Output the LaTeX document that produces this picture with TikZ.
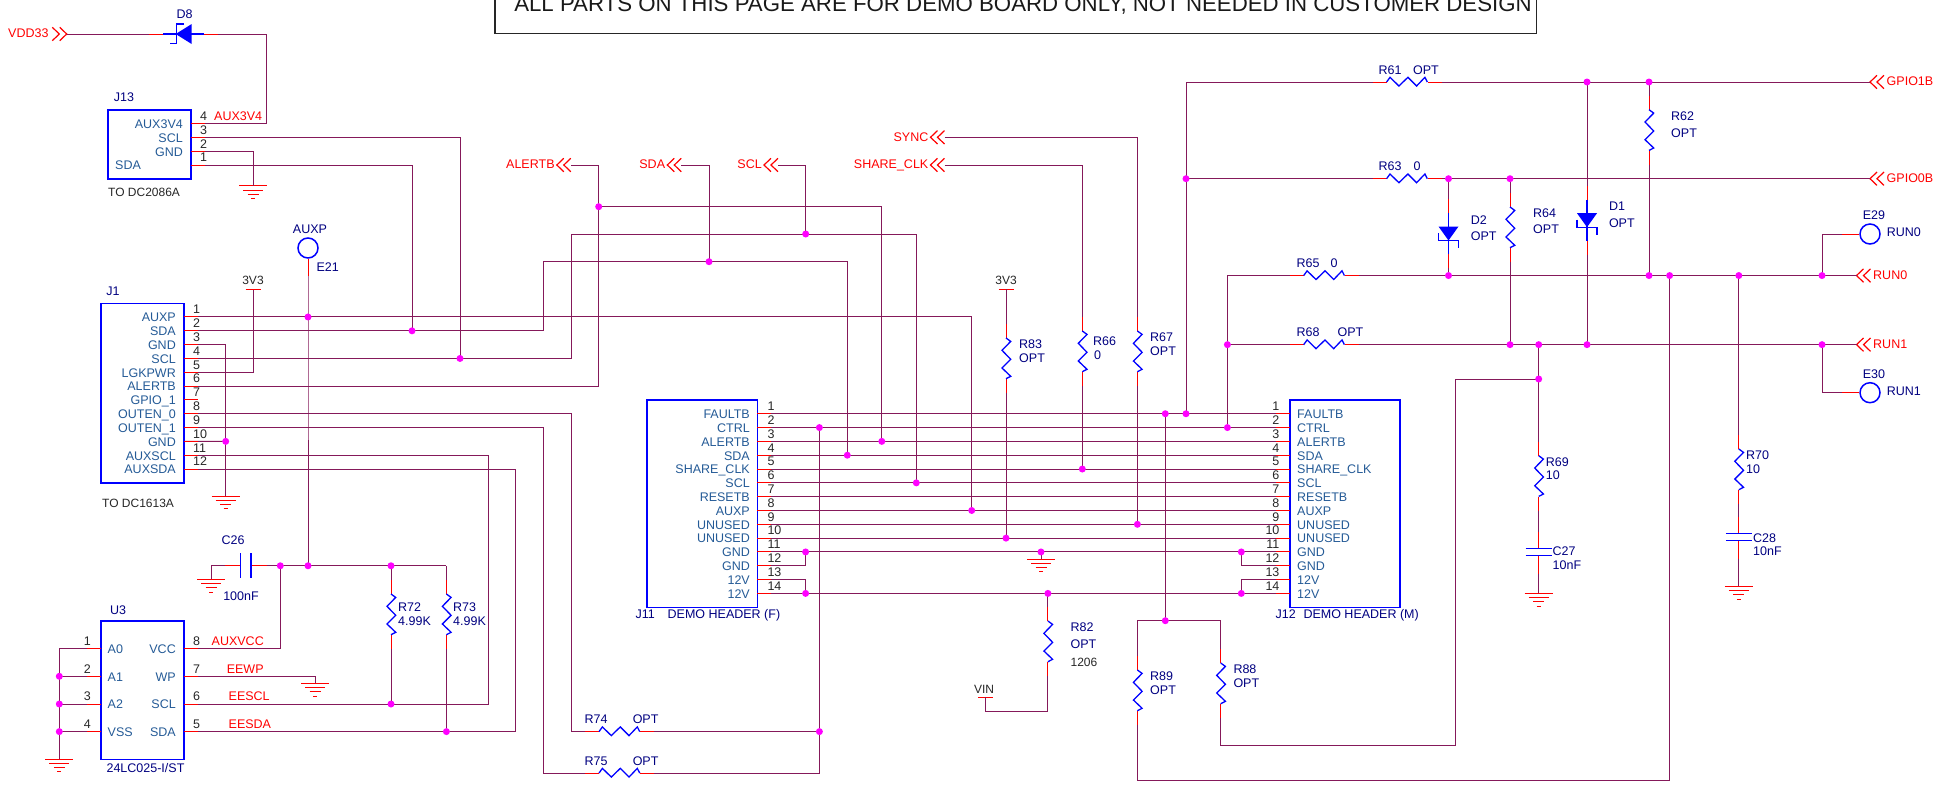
\documentclass[tikz,border=0pt]{standalone}
\usepackage{fontspec}
\setmainfont{Liberation Sans}
\definecolor{netwire}{HTML}{85195A}
\definecolor{pinblue}{HTML}{245A96}
\definecolor{refnavy}{HTML}{000080}
\definecolor{dotpink}{HTML}{FF00FF}
\newcommand{\vres}[3]{
    \coordinate (#1-a) at (#2,#3);
    \coordinate (#1-b) at (#2,#3+69);
    \draw[pinline] (#1-a) -- ++(0,14);
    \draw[pinline] (#2,#3+55) -- (#1-b);
    \draw[partline] (#2,#3+14) -- ++(4.7,3.4) -- ++(-8.7,8.9) -- ++(8.7,9) -- ++(-8.7,8.7) -- ++(8.7,8.3) -- ++(-4.7,2.4);
}
\newcommand{\hres}[3]{
    \coordinate (#1-a) at (#2,#3);
    \coordinate (#1-b) at (#2+69,#3);
    \draw[pinline] (#1-a) -- ++(14,0);
    \draw[pinline] (#2+55,#3) -- (#1-b);
    \draw[partline] (#2+14,#3) -- ++(3.4,-4.7) -- ++(8.9,8.7) -- ++(9,-8.7) -- ++(8.7,8.7) -- ++(8.3,-8.7) -- ++(2.4,4.7);
}
\newcommand{\zener}[3]{
    \coordinate (#1-a) at (#2,#3);
    \coordinate (#1-b) at (#2,#3+69);
    \draw[pinline] (#1-a) -- ++(0,14);
    \draw[pinline] (#2,#3+55) -- (#1-b);
    \draw[partline] (#2,#3+14) -- (#2,#3+55);
    \fill[blue] (#2-10,#3+27.5) -- (#2+10,#3+27.5) -- (#2,#3+41.5) -- cycle;
    \draw[partline] (#2-10,#3+34) -- (#2-10,#3+41.5) -- (#2+10,#3+41.5) -- (#2+10,#3+49);
}
\newcommand{\vcap}[3]{
    \coordinate (#1-a) at (#2,#3);
    \coordinate (#1-b) at (#2,#3+42);
    \draw[pinline] (#1-a) -- ++(0,16.5);
    \draw[pinline] (#2,#3+24) -- (#1-b);
    \draw[partline] (#2-13,#3+16.5) -- (#2+13,#3+16.5);
    \draw[partline] (#2-13,#3+24) -- (#2+13,#3+24);
}
\newcommand{\gnd}[3]{
    \coordinate (#1) at (#2,#3);
    \draw[pinline] (#2-14,#3) -- (#2+14,#3);
    \draw[pinline] (#2-10,#3+4.3) -- (#2+10,#3+4.3);
    \draw[pinline] (#2-5.5,#3+8.4) -- (#2+5.5,#3+8.4);
    \draw[pinline] (#2-2,#3+12.7) -- (#2+2,#3+12.7);
}
\newcommand{\supply}[3]{
    \coordinate (#1) at (#2,#3);
    \draw[pinline] (#2-7.5,#3) -- (#2+7.5,#3);
    \draw[pinline] (#1) -- ++(0,14);
}
\newcommand{\chevl}[4]{
    \coordinate (#1) at (#2+14,#3);
    \draw[chevline] (#2+7,#3-6.7) -- (#2,#3) -- (#2+7,#3+6.7);
    \draw[chevline] (#2+14,#3-6.7) -- (#2+7,#3) -- (#2+14,#3+6.7);
    \node[netname,atr] (#1-t) at (#2-2,#3) {#4};
}
\newcommand{\chevr}[4]{
    \coordinate (#1) at (#2,#3);
    \draw[chevline] (#2+7,#3-6.7) -- (#2,#3) -- (#2+7,#3+6.7);
    \draw[chevline] (#2+14,#3-6.7) -- (#2+7,#3) -- (#2+14,#3+6.7);
    \node[netname,atl] (#1-t) at (#2+16.5,#3) {#4};
}

\begin{document}
\begin{tikzpicture}[x=1pt,y=-1pt]
    \tikzstyle{wire}=[draw=netwire,line width=1pt]
    \tikzstyle{pinline}=[draw=red,line width=1pt]
    \tikzstyle{partline}=[draw=blue,line width=1.3pt]
    \tikzstyle{chevline}=[draw=red,line width=1.2pt]
    \tikzstyle{partbox}=[draw=blue,line width=1.6pt]
    \tikzstyle{dot}=[circle,fill=dotpink,inner sep=0pt,minimum size=7pt]
    \tikzstyle{pad}=[circle,draw=blue,line width=1.5pt,inner sep=0pt,minimum size=20pt]
    \tikzstyle{atl}=[anchor=mid west]
    \tikzstyle{atr}=[anchor=mid east]
    \tikzstyle{pinname}=[inner sep=0pt,yshift=-1.2pt,text=pinblue,font=\fontsize{12.5}{14}\selectfont]
    \tikzstyle{pinnum}=[inner sep=0pt,yshift=-1.2pt,text=black!85,font=\fontsize{12.5}{14}\selectfont]
    \tikzstyle{netname}=[inner sep=0pt,yshift=-1.2pt,text=red,font=\fontsize{12.5}{14}\selectfont]
    \tikzstyle{refdes}=[inner sep=0pt,yshift=-1.2pt,text=refnavy,font=\fontsize{12.5}{14}\selectfont]
    \tikzstyle{note}=[inner sep=0pt,yshift=-1.2pt,text=black!85,font=\fontsize{12}{14}\selectfont]
    \useasboundingbox (0,0) rectangle (1938,785);

    \coordinate (dAuxA) at (308,316.99);
    \coordinate (dAuxB) at (308,565.76);
    \coordinate (dSdaT) at (412,330.82);
    \coordinate (dSclT) at (460,358.46);
    \coordinate (dGndA) at (225.7,441.38);
    \coordinate (dAlert) at (598.7,206.7);
    \coordinate (dScl) at (805.7,234);
    \coordinate (dSda) at (709,261.7);
    \coordinate (dVcc) at (280.3,565.76);
    \coordinate (dRsft) at (391,565.76);
    \coordinate (dRsfb) at (391,704);
    \coordinate (dRstb) at (446.4,731.6);
    \coordinate (dAtwo) at (59.3,676.3);
    \coordinate (dAthr) at (59.3,704);
    \coordinate (dVss) at (59.3,731.6);
    \coordinate (dCtlA) at (819.4,427.56);
    \coordinate (dCtlB) at (819.4,731.6);
    \coordinate (dFltA) at (1165.3,413.74);
    \coordinate (dFltB) at (1186,413.74);
    \coordinate (dCtlC) at (1227.4,427.56);
    \coordinate (dAlJ) at (881.8,441.38);
    \coordinate (dSdJ) at (847.3,455.2);
    \coordinate (dShJ) at (1082.3,469.02);
    \coordinate (dScJ) at (916.3,482.84);
    \coordinate (dAuJ) at (971.7,510.48);
    \coordinate (dUnA) at (1137.4,524.3);
    \coordinate (dUnB) at (1006,538.12);
    \coordinate (dGndB) at (805.6,551.94);
    \coordinate (dGndC) at (1041,551.94);
    \coordinate (dGndD) at (1241.3,551.94);
    \coordinate (dTwvA) at (805.6,593.4);
    \coordinate (dTwvB) at (1047.9,593.4);
    \coordinate (dTwvC) at (1241.3,593.4);
    \coordinate (dOpt) at (1165.3,620.7);
    \coordinate (dGoneA) at (1587,82);
    \coordinate (dGoneB) at (1649,82);
    \coordinate (dGzeroA) at (1186,178.7);
    \coordinate (dGzeroB) at (1448.5,178.7);
    \coordinate (dGzeroC) at (1510,178.7);
    \coordinate (dRzA) at (1448.5,275.54);
    \coordinate (dRzB) at (1649,275.54);
    \coordinate (dRzC) at (1669.6,275.54);
    \coordinate (dRzD) at (1738.8,275.54);
    \coordinate (dRzE) at (1822,275.54);
    \coordinate (dRoA) at (1227.4,344.64);
    \coordinate (dRoB) at (1510,344.64);
    \coordinate (dRoC) at (1538.7,344.64);
    \coordinate (dRoD) at (1587,344.64);
    \coordinate (dRoE) at (1822,344.64);
    \coordinate (dTen) at (1538.7,379);
    \coordinate (kAux) at (266.7,123.7);
    \coordinate (kSda) at (543.3,261.7);
    \coordinate (kScl) at (571,234);
    \coordinate (kAlert) at (598.7,165);
    \coordinate (kOutA) at (571.4,731.6);
    \coordinate (kOutB) at (543.3,773.06);
    \coordinate (kSclE) at (488.3,704);
    \coordinate (kSdaE) at (515.6,731.6);
    \coordinate (kRst) at (446.4,565.76);
    \coordinate (kVin) at (985.5,711);
    \coordinate (kLoop) at (1455.6,745.7);
    \coordinate (kRing) at (1669.6,780);

    \node[pad] (eaux) at (308,248) {};
    \node[pad] (etn) at (1870,234) {};
    \node[pad] (eth) at (1870,392.7) {};

    \foreach \t/\n/\y in {AUX3V4/4/123.7,SCL/3/137.5,GND/2/151.3,SDA/1/165.1}
        \coordinate (jt-\n) at (191,\y);
    \foreach \n in {1,...,12}
        \coordinate (ja-\n) at (184,{316.99+13.82*(\n-1)});
    \foreach \n in {1,...,14}{
        \coordinate (jf-\n) at (757.4,{413.74+13.82*(\n-1)});
        \coordinate (jm-\n) at (1290,{413.74+13.82*(\n-1)});
    }
    \foreach \n/\y in {1/648.7,2/676.3,3/704,4/731.6}
        \coordinate (ul-\n) at (101,\y);
    \foreach \n/\y in {8/648.7,7/676.3,6/704,5/731.6}
        \coordinate (ur-\n) at (184,\y);

    \coordinate (cs-a) at (225.4,565.76);
    \coordinate (cs-b) at (266.5,565.76);
    \coordinate (de-a) at (149,34);
    \coordinate (de-b) at (218,34);

    \draw[wire] (de-b) -| (kAux) -- (jt-4);
    \draw[wire] (jt-3) -| (dSclT);
    \draw[wire] (jt-1) -| (dSdaT);
    \draw[wire] (eaux) -- (dAuxA) -- (dAuxB);
    \draw[wire] (ja-1) -| (dAuJ);
    \draw[wire] (ja-2) -| (kSda) -| (dSdJ);
    \draw[wire] (ja-4) -| (kScl) -| (dScJ);
    \draw[wire] (ja-6) -| (kAlert);
    \draw[wire] (dAlert) -| (dAlJ);
    \draw[wire] (ja-8) -| (kOutA);
    \draw[wire] (ja-9) -| (kOutB);
    \draw[wire] (ja-10) -- (dGndA);
    \draw[wire] (ja-11) -| (kSclE) -- (ur-6);
    \draw[wire] (ja-12) -| (kSdaE) -- (ur-5);
    \draw[wire] (dVcc) -- (kRst);
    \draw[wire] (ur-8) -| (dVcc);
    \draw[wire] (dCtlA) -- (dCtlB);
    \foreach \n in {1,...,11,14}
        \draw[wire] (jf-\n) -- (jm-\n);
    \draw[wire] (jf-12) -| (dGndB);
    \draw[wire] (jf-13) -| (dTwvA);
    \draw[wire] (jm-12) -| (dGndD);
    \draw[wire] (jm-13) -| (dTwvC);
    \draw[wire] (dFltA) -- (dOpt);
    \draw[wire] (dRoC) -- (dTen);
    \draw[wire] (dTen) -| (kLoop);

    \hres{rsf}{585}{731.6}
    \hres{rsv}{585}{773.06}
    \vres{rst}{391}{580}
    \vres{rsg}{446.4}{580}
    \vres{reth}{1006}{324}
    \vres{rsx}{1082.3}{317}
    \vres{rsn}{1137.4}{317}
    \vres{retw}{1047.9}{607}
    \vres{renn}{1137.4}{656}
    \vres{rett}{1220.7}{649}
    \vres{rstw}{1649}{95.7}
    \vres{rsfo}{1510}{193}
    \vres{rsnn}{1538.7}{441.7}
    \vres{rsvz}{1738.8}{435}
    \hres{rsfs}{1372.6}{82}
    \hres{rsft}{1372.6}{178.7}
    \hres{rsff}{1289.7}{275.54}
    \hres{rsfe}{1289.7}{344.64}
    \zener{dtwo}{1448.5}{199}
    \zener{done}{1587}{185.7}
    \vcap{cst}{1538.7}{531.7}
    \vcap{cse}{1738.8}{516.7}
    \gnd{gjt}{253}{185.7}
    \gnd{gja}{225.7}{496}
    \gnd{gcs}{211}{579.3}
    \gnd{gwp}{315}{683.3}
    \gnd{gul}{59.3}{759}
    \gnd{gjf}{1041}{559}
    \gnd{gcst}{1538.7}{593.3}
    \gnd{gcse}{1738.8}{586.3}
    \supply{sta}{253}{289.7}
    \supply{stb}{1006}{289.3}
    \supply{svin}{985.5}{697}
    \chevl{nalert}{556.8}{165}{ALERTB}
    \chevl{nsda}{667.3}{165}{SDA}
    \chevl{nscl}{764}{165}{SCL}
    \chevl{nshare}{930.5}{165}{SHARE\_CLK}
    \chevl{nsync}{930.5}{137.3}{SYNC}
    \chevr{ngone}{1870}{82}{GPIO1B}
    \chevr{ngzero}{1870}{178.7}{GPIO0B}
    \chevr{nrzero}{1856.5}{275.54}{RUN0}
    \chevr{nrone}{1856.5}{344.64}{RUN1}
    \coordinate (nvdd) at (66.7,34);
    \draw[chevline] (52.3,27.3) -- (59.3,34) -- (52.3,40.7);
    \draw[chevline] (59.7,27.3) -- (66.7,34) -- (59.7,40.7);
    \node[netname,atl] (nvdd-t) at (8,34) {VDD33};

    \draw[wire] (nvdd) -- (de-a);
    \draw[wire] (jt-2) -| (gjt);
    \draw[wire] (ja-3) -| (gja);
    \draw[wire] (ja-5) -| (sta);
    \draw[wire] (kAlert) -- (nalert);
    \draw[wire] (nsda) -| (dSda);
    \draw[wire] (nscl) -| (dScl);
    \draw[wire] (nshare) -| (rsx-a);
    \draw[wire] (nsync) -| (rsn-a);
    \draw[wire] (rsx-b) -- (dShJ);
    \draw[wire] (rsn-b) -- (dUnA);
    \draw[wire] (kOutA) -- (rsf-a);
    \draw[wire] (kOutB) -- (rsv-a);
    \draw[wire] (rsf-b) -- (dCtlB);
    \draw[wire] (rsv-b) -| (dCtlB);
    \draw[wire] (gcs) |- (cs-a);
    \draw[wire] (cs-b) -- (dVcc);
    \draw[wire] (dRsft) -- (rst-a);
    \draw[wire] (rst-b) -- (dRsfb);
    \draw[wire] (kRst) -- (rsg-a);
    \draw[wire] (rsg-b) -- (dRstb);
    \draw[wire] (ul-1) -| (gul);
    \draw[wire] (ul-2) -- (dAtwo);
    \draw[wire] (ul-3) -- (dAthr);
    \draw[wire] (ul-4) -- (dVss);
    \draw[wire] (ur-7) -| (gwp);
    \draw[wire] (dGndC) -- (gjf);
    \draw[wire] (dTwvB) -- (retw-a);
    \draw[wire] (retw-b) |- (kVin) -- (svin);
    \draw[wire] (stb) -- (reth-a);
    \draw[wire] (reth-b) -- (dUnB);
    \draw[wire] (dFltB) |- (rsfs-a);
    \draw[wire] (dGzeroA) -- (rsft-a);
    \draw[wire] (rsfs-b) -- (ngone);
    \draw[wire] (rsft-b) -- (ngzero);
    \draw[wire] (dGoneA) -- (done-a);
    \draw[wire] (done-b) -- (dRoD);
    \draw[wire] (dGzeroB) -- (dtwo-a);
    \draw[wire] (dtwo-b) -- (dRzA);
    \draw[wire] (dGoneB) -- (rstw-a);
    \draw[wire] (rstw-b) -- (dRzB);
    \draw[wire] (dGzeroC) -- (rsfo-a);
    \draw[wire] (rsfo-b) -- (dRoB);
    \draw[wire] (dCtlC) |- (rsff-a);
    \draw[wire] (dRoA) -- (rsfe-a);
    \draw[wire] (rsff-b) -- (nrzero);
    \draw[wire] (rsfe-b) -- (nrone);
    \draw[wire] (dTen) -- (rsnn-a);
    \draw[wire] (rsnn-b) -- (cst-a);
    \draw[wire] (cst-b) -- (gcst);
    \draw[wire] (dRzD) -- (rsvz-a);
    \draw[wire] (rsvz-b) -- (cse-a);
    \draw[wire] (cse-b) -- (gcse);
    \draw[wire] (renn-a) |- (dOpt) -| (rett-a);
    \draw[wire] (kLoop) -| (rett-b);
    \draw[wire] (dRzC) -- (kRing) -| (renn-b);
    \draw[wire] (dRzE) |- (etn);
    \draw[wire] (dRoE) |- (eth);

    \draw[pinline] (de-a) -- ++(14,0);
    \draw[pinline] (de-b) -- ++(-14,0);
    \draw[partline] (163,34) -- (204,34);
    \fill[blue] (175.7,34) -- (191.7,24) -- (191.7,44) -- cycle;
    \draw[partline] (184,24) -- (176.5,24) -- (176.5,43.7) -- (169.5,43.7);
    \draw[pinline] (eaux.south) -- ++(0,17);
    \draw[pinline] (etn.west) -- ++(-17,0);
    \draw[pinline] (eth.west) -- ++(-17,0);
    \draw[pinline] (cs-a) -- (240.4,565.76);
    \draw[pinline] (cs-b) -- (251,565.76);
    \draw[partline] (240.4,553.3) -- (240.4,578.3);
    \draw[partline] (251,553.3) -- (251,578.3);

    \draw[partbox] (108,110) rectangle (191,179);
    \draw[partbox] (101,303.3) rectangle (184,482.7);
    \draw[partbox] (100.8,620.7) rectangle (184,759.3);
    \draw[partbox] (646.8,400) rectangle (757.4,607.3);
    \draw[partbox] (1290,400) rectangle (1400,607.3);
    \draw[black!85,line width=1.5pt] (495,-20) rectangle (1536.6,33.3);
    \node[inner sep=0pt,anchor=base,text=black!90,font=\fontsize{22.25}{26}\selectfont] (title) at (1023,11.7) {ALL PARTS ON THIS PAGE ARE FOR DEMO BOARD ONLY, NOT NEEDED IN CUSTOMER DESIGN};

    \foreach \t/\n/\y in {AUX3V4/4/123.7,SCL/3/137.5,GND/2/151.3}
        \node[pinname,atr] (jt-t\n) at (183,\y+1) {\t};
    \node[pinname,atl] (jt-t1) at (115,166.1) {SDA};
    \foreach \n in {1,...,4}{
        \draw[pinline] (jt-\n) -- ++(14,0);
        \node[pinnum,atl] (jt-n\n) at (200,{165.1-13.8*(\n-1)-7}) {\n};
    }
    \foreach \t [count=\n] in {AUXP,SDA,GND,SCL,LGKPWR,ALERTB,GPIO\_1,OUTEN\_0,OUTEN\_1,GND,AUXSCL,AUXSDA}{
        \draw[pinline] (ja-\n) -- ++(14,0);
        \node[pinname,atr] (ja-t\n) at (176,{316.99+13.82*(\n-1)+1}) {\t};
        \node[pinnum,atl] (ja-n\n) at (193,{316.99+13.82*(\n-1)-7}) {\n};
    }
    \foreach \t [count=\n] in {FAULTB,CTRL,ALERTB,SDA,SHARE\_CLK,SCL,RESETB,AUXP,UNUSED,UNUSED,GND,GND,12V,12V}{
        \draw[pinline] (jf-\n) -- ++(14,0);
        \draw[pinline] (jm-\n) -- ++(-14,0);
        \node[pinname,atr] (jf-t\n) at (750,{413.74+13.82*(\n-1)+1}) {\t};
        \node[pinname,atl] (jm-t\n) at (1297,{413.74+13.82*(\n-1)+1}) {\t};
        \node[pinnum,atl] (jf-n\n) at (767.3,{413.74+13.82*(\n-1)-7}) {\n};
        \node[pinnum,atr] (jm-n\n) at (1279.6,{413.74+13.82*(\n-1)-7}) {\n};
    }
    \foreach \t/\n/\y in {A0/1/648.7,A1/2/676.3,A2/3/704,VSS/4/731.6}{
        \draw[pinline] (ul-\n) -- ++(-14,0);
        \node[pinname,atl] (ul-t\n) at (107.5,\y+1) {\t};
        \node[pinnum,atr] (ul-n\n) at (91,\y-7) {\n};
    }
    \foreach \t/\n/\y in {VCC/8/648.7,WP/7/676.3,SCL/6/704,SDA/5/731.6}{
        \draw[pinline] (ur-\n) -- ++(14,0);
        \node[pinname,atr] (ur-t\n) at (176,\y+1) {\t};
        \node[pinnum,atl] (ur-n\n) at (193,\y-7) {\n};
    }

    \foreach \t/\x/\y [count=\i] in {AUX3V4/214/116.7,AUXVCC/211.5/641.7,EEWP/226.6/669.3,EESCL/228.5/697,EESDA/228.5/724.7}
        \node[netname,atl] (lab-\i) at (\x,\y) {\t};
    \foreach \t/\x/\y [count=\i] in {D8/184.7/12.7,J13/124/96,J1/113/290,AUXP/310/228,C26/233/539,100nF/241/594.7,U3/118/608.7,24LC025-I\slash ST/145.5/766.7,R74/596/717.7,OPT/645.6/717.7,R75/596/759.7,OPT/645.6/759.7,R61/1390/69,OPT/1426/69,R63/1390/165,0/1417/165,R65/1308/262,0/1334/262,R68/1308/330.7,OPT/1350.5/330.7,E29/1874/213.7,E30/1874/372.7}
        \node[refdes] (ctr-\i) at (\x,\y) {\t};
    \foreach \t/\x/\y [count=\i] in {E21/316.3/267.7,R72/398/607.7,4.99K/398/621.7,R73/453/607.7,4.99K/453/621.7,R83/1019/345,OPT/1019/359,R66/1093/341.7,0/1094/356,R67/1150/337.7,OPT/1150/351.7,R82/1070.4/627.7,OPT/1070.4/644.7,R89/1150/676.7,OPT/1150/690.7,R88/1233.3/670,OPT/1233.3/683.7,R62/1671/117,OPT/1671/133.7,D2/1470.6/221,OPT/1470.6/236.7,R64/1533/213.7,OPT/1533/229.7,D1/1608.8/206.7,OPT/1608.8/223.7,R69/1545.6/462.7,10/1545.6/476,C27/1552.5/551.7,10nF/1552.5/565.7,R70/1746/455.7,10/1746/469.7,C28/1753/538.7,10nF/1753/551.7,J11/635.3/615,DEMO HEADER (F)/667.5/615,J12/1275.4/615,DEMO HEADER (M)/1303.3/615,RUN0/1886.7/232.7,RUN1/1886.7/391.7}
        \node[refdes,atl] (lft-\i) at (\x,\y) {\t};
    \foreach \t/\x/\y [count=\i] in {TO DC2086A/108/193,TO DC1613A/102/504,1206/1070.4/663}
        \node[note,atl] (not-\i) at (\x,\y) {\t};
    \foreach \t/\x/\y [count=\i] in {3V3/253/279,3V3/1006/279,VIN/984/687.7}
        \node[note] (sup-\i) at (\x,\y) {\t};

    \foreach \d in {dAuxA,dAuxB,dSdaT,dSclT,dGndA,dAlert,dScl,dSda,dVcc,dRsft,dRsfb,dRstb,dAtwo,dAthr,dVss,dCtlA,dCtlB,dFltA,dFltB,dCtlC,dAlJ,dSdJ,dShJ,dScJ,dAuJ,dUnA,dUnB,dGndB,dGndC,dGndD,dTwvA,dTwvB,dTwvC,dOpt,dGoneA,dGoneB,dGzeroA,dGzeroB,dGzeroC,dRzA,dRzB,dRzC,dRzD,dRzE,dRoA,dRoB,dRoC,dRoD,dRoE,dTen}
        \node[dot] (dot-\d) at (\d) {};
\end{tikzpicture}
\end{document}
